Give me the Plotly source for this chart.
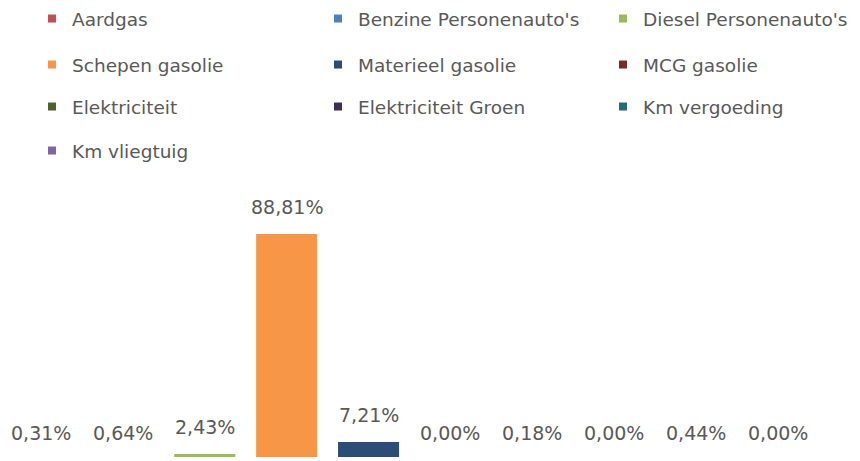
import plotly.graph_objects as go

categories = ["Aardgas", "Benzine Personenauto's", "Diesel Personenauto's",
              "Schepen gasolie", "Materieel gasolie", "MCG gasolie",
              "Elektriciteit", "Elektriciteit Groen", "Km vergoeding", "Km vliegtuig"]
values = [0.31, 0.64, 2.43, 88.81, 7.21, 0.00, 0.18, 0.00, 0.44, 0.00]
labels = ["0,31%", "0,64%", "2,43%", "88,81%", "7,21%", "0,00%", "0,18%", "0,00%", "0,44%", "0,00%"]
colors = ["#C0504D", "#4F81BD", "#9BBB59", "#F79646", "#2C4D75",
          "#772C2A", "#4F6228", "#3F3151", "#276A7C", "#8064A2"]

Y_MIN = 1.3
Y_MAX = 106.1
FONT = "DejaVu Sans"
TXT = "#595959"

fig = go.Figure()
legend_ids = ["legend"] + ["legend%d" % k for k in range(2, 11)]
for i, (c, v, col) in enumerate(zip(categories, values, colors)):
    fig.add_trace(go.Bar(x=[c], y=[v], marker=dict(color=col, line=dict(width=0)),
                         width=0.745, showlegend=False, hoverinfo="x+y"))
    fig.add_trace(go.Scatter(x=[None], y=[None], mode="markers", name=c,
                             marker=dict(symbol="square", size=8, color=col),
                             legend=legend_ids[i], showlegend=True))

for c, v, t in zip(categories, values, labels):
    fig.add_annotation(x=c, y=max(v, Y_MIN), text=t, showarrow=False,
                       yanchor="middle", yshift=27 if v >= Y_MIN else 24,
                       font=dict(family=FONT, size=19, color=TXT))

row_y = [19, 65, 107, 151]
col_x = [32, 318, 603]
layout_legends = {}
for i, lid in enumerate(legend_ids):
    layout_legends[lid] = dict(
        orientation="h", xref="container", yref="container",
        x=col_x[i % 3] / 860, y=1 - row_y[i // 3] / 461,
        xanchor="left", yanchor="middle",
        font=dict(family=FONT, size=18.5, color=TXT),
        bgcolor="rgba(0,0,0,0)", itemsizing="trace")

fig.update_layout(
    width=860, height=461,
    margin=dict(l=0, r=41, t=190, b=4, autoexpand=False),
    paper_bgcolor="white", plot_bgcolor="white",
    barmode="overlay",
    xaxis=dict(type="category", categoryorder="array", categoryarray=categories,
               showticklabels=False, showgrid=False, zeroline=False, showline=False,
               range=[-0.5, 9.5], fixedrange=True),
    yaxis=dict(range=[Y_MIN, Y_MAX], showticklabels=False, showgrid=False,
               zeroline=False, showline=False, fixedrange=True),
    **layout_legends,
)

fig.write_html("out.html", config={"displayModeBar": False},
               post_script="document.body.style.margin='0';")
